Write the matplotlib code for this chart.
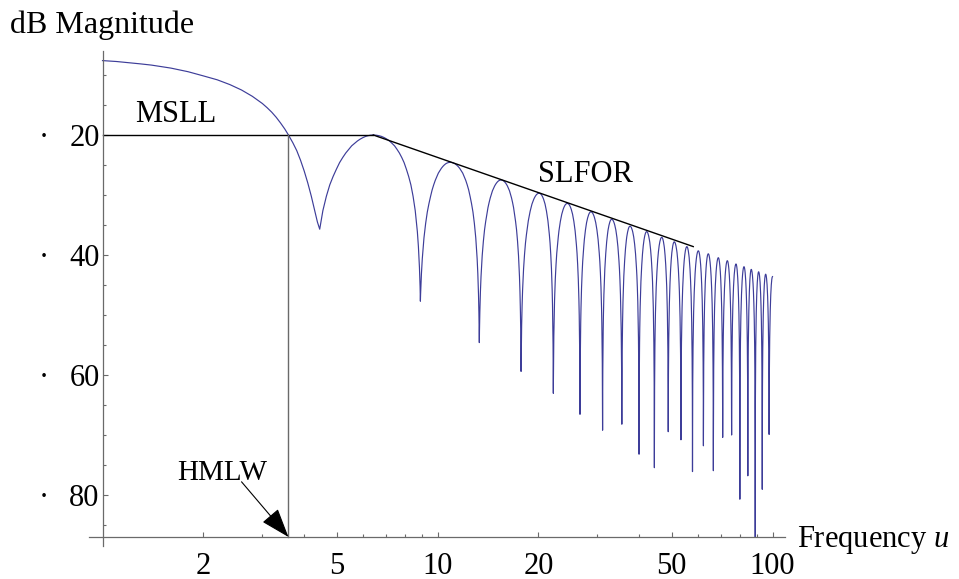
import numpy as np
import matplotlib
matplotlib.use("Agg")
import matplotlib.pyplot as plt
import matplotlib.transforms as mtransforms
from matplotlib.ticker import FixedLocator, FixedFormatter, NullFormatter

plt.rcParams['font.family'] = ['Liberation Serif', 'DejaVu Serif']
plt.rcParams['mathtext.fontset'] = 'custom'
plt.rcParams['mathtext.rm'] = 'Liberation Serif'
plt.rcParams['mathtext.it'] = 'Liberation Serif:italic'

# ---------------- data ----------------
# main lobe (right half), u vs dB magnitude
main_lobe_u = [1.0, 1.1, 1.2, 1.3, 1.4, 1.5, 1.6, 1.7, 1.8, 1.9, 2.0, 2.2, 2.4, 2.6,
               2.8, 3.0, 3.1, 3.2, 3.3, 3.4, 3.5, 3.59, 3.7, 3.8, 3.9, 4.0, 4.1,
               4.2, 4.3, 4.38]
main_lobe_db = [7.6, 7.75, 7.95, 8.15, 8.35, 8.6, 8.85, 9.15, 9.45, 9.8, 10.15, 10.8,
                11.6, 12.5, 13.55, 14.75, 15.45, 16.2, 17.05, 18.0, 19.0, 20.0, 21.3,
                22.6, 24.2, 26.0, 28.0, 30.2, 32.6, 34.5]

# side-lobe nulls (position, depth)
null_u = [4.45, 8.89, 13.33, 17.76, 22.17, 26.63, 31.1, 35.5, 39.96, 44.4, 48.84,
          53.3, 57.7, 62.2, 66.6, 71.0, 75.5, 79.9, 84.4, 88.8, 93.2, 97.7]
null_db = [35.7, 47.7, 54.6, 59.4, 63.05, 66.55, 69.2, 68.2, 73.2, 75.45, 69.45,
           70.8, 76.1, 71.8, 75.95, 70.4, 70.0, 80.7, 76.8, 87.0, 79.05, 69.9]

# side-lobe peaks (position, level); the last entry is the end of the curve
peak_u = [6.43, 10.9, 15.47, 20.1, 24.4, 28.7, 33.1, 37.55, 42.1, 46.7, 50.9,
          55.5, 60.05, 64.3, 68.9, 73.3, 77.8, 82.2, 86.4, 90.9, 95.4, 100.0]
peak_db = [20.0, 24.55, 27.5, 29.7, 31.4, 32.8, 34.05, 35.2, 36.1, 37.05, 37.8,
           38.6, 39.3, 39.8, 40.45, 40.95, 41.5, 41.95, 42.4, 42.8, 43.2, 43.6]

# annotation lines
msll_u = [1.0, 6.43]
msll_db = [20.0, 20.0]
slfor_u = [6.43, 58.0]
slfor_db = [20.0, 38.6]
hmlw_u = [3.59, 3.59]
hmlw_db = [20.0, 87.0]

x_major = [2, 5, 10, 20, 50, 100]
x_major_labels = ['2', '5', '10', '20', '50', '100']
x_minor = [3, 4, 6, 7, 8, 9, 30, 40, 60, 70, 80, 90]
y_major = [20, 40, 60, 80]
y_major_labels = ['20', '40', '60', '80']
y_minor = [10, 15, 25, 30, 35, 45, 50, 55, 65, 70, 75, 85]

# lobe shape profile (dB below lobe peak vs. fraction of the null-to-peak span)
LOBE_S = [0.0005, 0.001, 0.002, 0.005, 0.01, 0.02, 0.035, 0.05, 0.075, 0.1, 0.15, 0.2,
          0.25, 0.3, 0.35, 0.4, 0.45, 0.5, 0.55, 0.6, 0.65, 0.7, 0.75, 0.8, 0.85, 0.9, 0.95, 1.0]
LOBE_DROP = [62.1, 56.1, 50.1, 42.1, 36.1, 30.1, 25.2, 22.1, 18.6, 16.1, 12.6, 10.2,
             8.3, 6.9, 5.7, 4.6, 3.75, 3.0, 2.38, 1.8, 1.39, 1.0, 0.69, 0.44, 0.24, 0.11, 0.03, 0.0]


def flank(un, dn, up, dp):
    """Points from a null (un, dn) up to a peak (up, dp)."""
    s = np.array(LOBE_S)
    dr = np.array(LOBE_DROP)
    depth = dn - dp
    s0 = np.interp(depth, dr[::-1], s[::-1])
    keep = s > s0
    t = (s[keep] - s0) / (1 - s0)
    us = [un] + list(un + t * (up - un))
    ds = [dn] + list(dp + dr[keep])
    return us, ds


cu = list(main_lobe_u)
cd = list(main_lobe_db)
for k in range(len(null_u)):
    if k > 0:
        us, ds = flank(null_u[k], null_db[k], peak_u[k - 1], peak_db[k - 1])
        cu += us[::-1][1:]
        cd += ds[::-1][1:]
    else:
        cu.append(null_u[0])
        cd.append(null_db[0])
    us, ds = flank(null_u[k], null_db[k], peak_u[k], peak_db[k])
    cu += us[1:]
    cd += ds[1:]

# ---------------- figure ----------------
W, H = 959, 579
fig = plt.figure(figsize=(W / 100, H / 100), dpi=100)
ax = fig.add_axes([89 / W, (H - 546) / H, (785 - 89) / W, (546 - 51) / H])
ax.set_xscale('log')
ax.set_xlim(0.9113, 108.97)
ax.set_ylim(88.5, 6.0)

axis_col = '#6a6a6a'
for side in ['top', 'right']:
    ax.spines[side].set_visible(False)
ax.spines['left'].set_position(('data', 1.0))
ax.spines['bottom'].set_position(('data', 87.0))
for side in ['left', 'bottom']:
    ax.spines[side].set_color(axis_col)
    ax.spines[side].set_linewidth(0.9)

ax.xaxis.set_major_locator(FixedLocator(x_major))
ax.xaxis.set_major_formatter(FixedFormatter(x_major_labels))
ax.xaxis.set_minor_locator(FixedLocator(x_minor))
ax.xaxis.set_minor_formatter(NullFormatter())
ax.yaxis.set_major_locator(FixedLocator(y_major))
ax.yaxis.set_major_formatter(FixedFormatter(y_major_labels))
ax.yaxis.set_minor_locator(FixedLocator(y_minor))
ax.yaxis.set_minor_formatter(NullFormatter())

ax.tick_params(which='both', direction='in', color=axis_col, width=0.8, labelsize=22)
ax.tick_params(which='major', length=3.3)
ax.tick_params(which='minor', length=2.0)
ax.tick_params(axis='x', which='major', pad=10.5)
ax.tick_params(axis='y', which='major', pad=2.0)

# curve
ax.plot(cu, cd, color='#3d3d99', lw=0.85)

# annotation lines
ax.plot(msll_u, msll_db, color='black', lw=1.0)
ax.plot(slfor_u, slfor_db, color='black', lw=1.0)
ax.plot(hmlw_u, hmlw_db, color=axis_col, lw=1.0)

# dots before y tick labels
blend = mtransforms.blended_transform_factory(ax.transAxes, ax.transData)
for v in y_major:
    ax.text(-0.0647, v, '\u00b7', transform=blend, ha='center', va='center_baseline',
            fontsize=22, clip_on=False)

# texts
ax.text(0.529, 3.0, 'dB Magnitude', fontsize=23, ha='left', va='baseline', clip_on=False)
ax.text(1.25, 17.8, 'MSLL', fontsize=22, ha='left', va='baseline')
ax.text(19.95, 27.8, 'SLFOR', fontsize=22, ha='left', va='baseline')
ax.text(1.67, 77.5, 'HMLW', fontsize=21, ha='left', va='baseline')
ax.text(118.1, 88.6, 'Frequency $\\mathit{u}$', fontsize=22, ha='left', va='baseline',
        clip_on=False)

ax.annotate('', xy=(3.59, 87.0), xytext=(2.60, 77.8),
            arrowprops=dict(arrowstyle='-|>,head_length=18.5,head_width=6.5',
                            mutation_scale=1, color='black', lw=0.8,
                            shrinkA=0, shrinkB=0))

fig.savefig('out.png', dpi=100)
